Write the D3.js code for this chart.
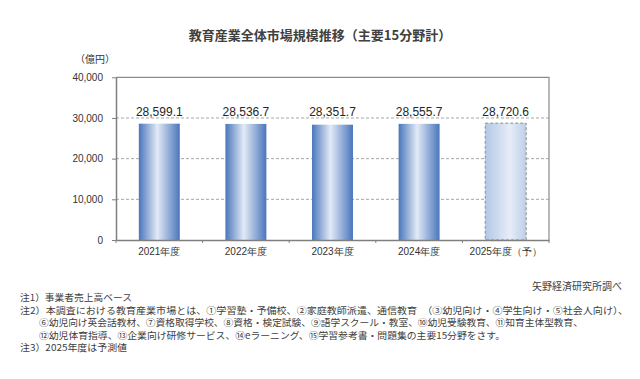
<!DOCTYPE html>
<html>
<head>
<meta charset="utf-8">
<script src="https://cdn.jsdelivr.net/npm/d3@7"></script>
<style>
  body { margin: 0; background: #fff; }
  svg { display: block; font-family: "Noto Sans CJK JP", "Noto Sans", sans-serif; }
</style>
</head>
<body>
<svg id="chart" width="640" height="379"></svg>
<script>
// 教育産業全体市場規模推移 data
const categories = ["2021年度", "2022年度", "2023年度", "2024年度", "2025年度(予)"];
const values = [28599.1, 28536.7, 28351.7, 28555.7, 28720.6];
const forecast = [false, false, false, false, true];
const yTicks = [0, 10000, 20000, 30000, 40000];
const notes = [
  "注1）事業者売上高ベース",
  "注2）本調査における教育産業市場とは、①学習塾・予備校、②家庭教師派遣、通信教育　（③幼児向け・④学生向け・⑤社会人向け）、",
  "⑥幼児向け英会話教材、⑦資格取得学校、⑧資格・検定試験、⑨語学スクール・教室、⑩幼児受験教育、⑪知育主体型教育、",
  "⑫幼児体育指導、⑬企業向け研修サービス、⑭eラーニング、⑮学習参考書・問題集の主要15分野をさす。",
  "注3）2025年度は予測値"
];

const svg = d3.select("#chart");
const plotL = 116, plotR = 549, plotT = 77.3, plotB = 240;

const x = d3.scaleBand().domain(categories).range([plotL, plotR])
  .paddingInner(0.527).paddingOuter(0.2635);
const y = d3.scaleLinear().domain([0, 40000]).range([plotB, plotT]);

const defs = svg.append("defs");
const g1 = defs.append("linearGradient").attr("id", "barGrad");
g1.append("stop").attr("offset", "0%").attr("stop-color", "#4a76bb");
g1.append("stop").attr("offset", "45%").attr("stop-color", "#e2eaf6");
g1.append("stop").attr("offset", "100%").attr("stop-color", "#4a76bb");
const g2 = defs.append("linearGradient").attr("id", "fcGrad");
g2.append("stop").attr("offset", "0%").attr("stop-color", "#b3c7e5");
g2.append("stop").attr("offset", "60%").attr("stop-color", "#e6edf7");
g2.append("stop").attr("offset", "100%").attr("stop-color", "#bccfe9");

// title
svg.append("text").attr("x", 320).attr("y", 35).attr("dy", "0.35em")
  .attr("text-anchor", "middle").attr("font-size", 13).attr("font-weight", "bold")
  .attr("fill", "#404040").text("教育産業全体市場規模推移（主要15分野計）");

svg.append("text").attr("x", 75).attr("y", 59).attr("dy", "0.35em")
  .attr("font-size", 10).attr("fill", "#333").text("（億円）");

// grid lines
svg.append("g").selectAll("line").data(yTicks.filter(d => d > 0 && d < 40000)).join("line")
  .attr("x1", plotL).attr("x2", plotR)
  .attr("y1", d => y(d)).attr("y2", d => y(d))
  .attr("stroke", "#a6a6a6").attr("stroke-dasharray", "3,2");

// plot border (top, right)
svg.append("path")
  .attr("d", `M${plotL},${plotT}H${plotR}V${plotB}`)
  .attr("fill", "none").attr("stroke", "#8c8c8c").attr("stroke-width", 1.2);

// bars
svg.append("g").selectAll("rect").data(categories).join("rect")
  .attr("x", d => x(d)).attr("width", x.bandwidth())
  .attr("y", (d, i) => y(values[i])).attr("height", (d, i) => plotB - y(values[i]))
  .attr("fill", (d, i) => forecast[i] ? "url(#fcGrad)" : "url(#barGrad)")
  .attr("stroke", (d, i) => forecast[i] ? "#8c8c8c" : "none")
  .attr("stroke-dasharray", "3,2");

// value labels
svg.append("g").selectAll("text").data(categories).join("text")
  .attr("x", d => x(d) + x.bandwidth() / 2).attr("y", 111.7).attr("dy", "0.35em")
  .attr("text-anchor", "middle").attr("font-size", 12)
  .attr("font-family", "'Liberation Sans', Arial, sans-serif").attr("fill", "#262626")
  .text((d, i) => d3.format(",.1f")(values[i]));

// y axis
const yAxis = svg.append("g").attr("transform", `translate(${plotL},0)`)
  .call(d3.axisLeft(y).tickValues(yTicks).tickFormat(d3.format(",")).tickSize(4).tickSizeOuter(0).tickPadding(9));
yAxis.select(".domain").attr("stroke", "#7f7f7f").attr("stroke-width", 1.5);
yAxis.selectAll(".tick line").attr("stroke", "#7f7f7f");
yAxis.selectAll(".tick text").attr("font-size", 10)
  .attr("font-family", "'Liberation Sans', Arial, sans-serif").attr("fill", "#333");

// x axis
const xAxis = svg.append("g").attr("transform", `translate(0,${plotB})`)
  .call(d3.axisBottom(x).tickSize(0).tickSizeOuter(0).tickPadding(8));
xAxis.select(".domain").attr("stroke", "#7f7f7f").attr("stroke-width", 1.5);
xAxis.selectAll(".tick text").attr("font-size", 10).attr("fill", "#333")
  .text(d => d.replace("(予)", "（予）"));
const step = x.step();
xAxis.append("g").selectAll("line").data(d3.range(categories.length + 1)).join("line")
  .attr("x1", i => plotL + i * step).attr("x2", i => plotL + i * step)
  .attr("y1", 0).attr("y2", 3).attr("stroke", "#7f7f7f");

// source
svg.append("text").attr("x", 622).attr("y", 286).attr("dy", "0.35em")
  .attr("text-anchor", "end").attr("font-size", 10).attr("fill", "#404040").text("矢野経済研究所調べ");

// notes
const noteX = [20, 20, 39, 39, 20];
const noteY = [298, 310.5, 323, 335.5, 348];
const noteW = [112, 608, 544, 466, 107];
svg.append("g").selectAll("text").data(notes).join("text")
  .attr("x", (d, i) => noteX[i]).attr("y", (d, i) => noteY[i]).attr("dy", "0.35em")
  .attr("textLength", (d, i) => noteW[i]).attr("lengthAdjust", "spacingAndGlyphs")
  .attr("font-size", 9.5).attr("fill", "#404040").text(d => d);
</script>
</body>
</html>
